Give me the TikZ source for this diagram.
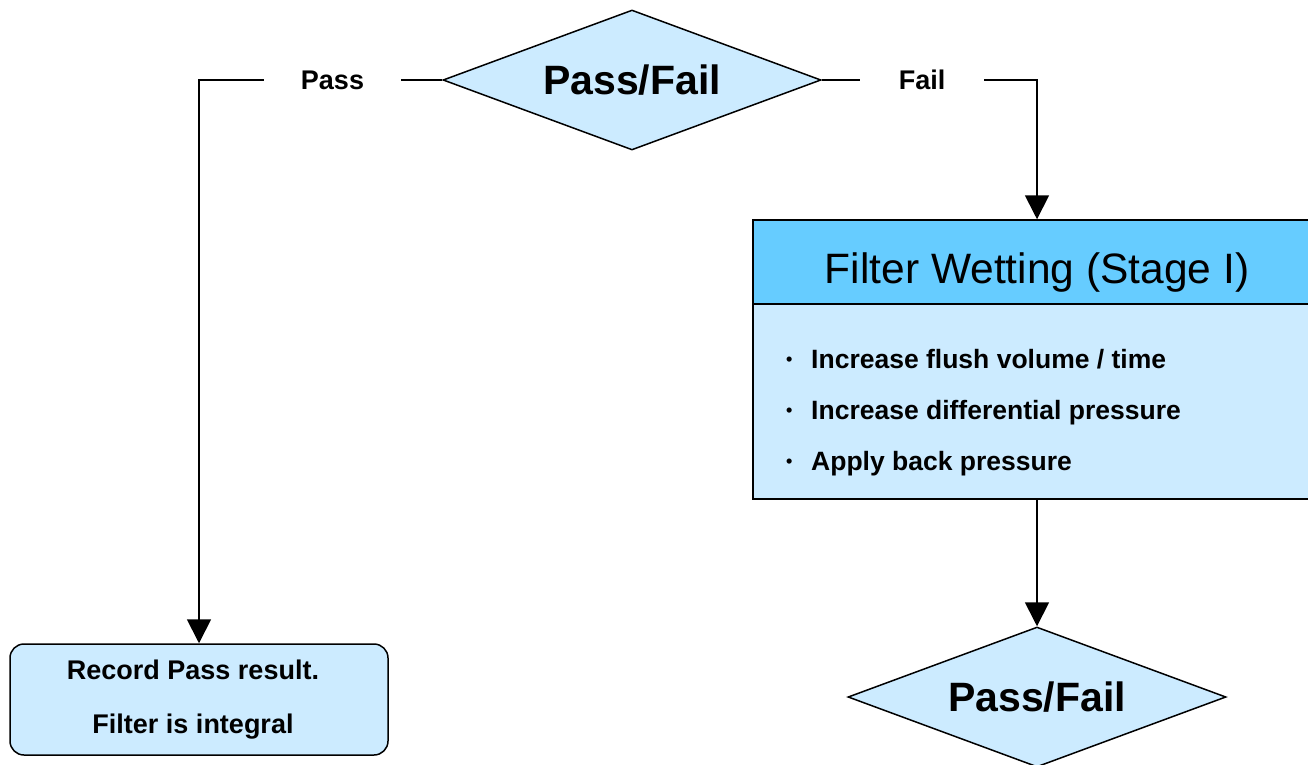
\documentclass[tikz,border=0pt]{standalone}
\usepackage{fontspec}
\setmainfont{Liberation Sans}
\usetikzlibrary{shapes.geometric,arrows.meta}
\definecolor{paleblue}{HTML}{CCEBFF}
\definecolor{headblue}{HTML}{66CCFF}
% small bullet glyph followed by a fixed gap
\newcommand\bulletmark{\makebox[25pt][l]{\fontsize{18}{18}\selectfont\raisebox{3pt}{•}}}
\tikzset{
  lbl/.style={font=\fontsize{27}{32}\selectfont\bfseries, inner sep=0pt},
  itemtext/.style={font=\fontsize{26.5}{32}\selectfont\bfseries, inner sep=0pt, anchor=base west},
  decision/.style={diamond, draw, line width=1.5pt, fill=paleblue,
    minimum width=378pt, minimum height=140pt, shape aspect=2.7, inner sep=0pt,
    font=\fontsize{41}{50}\selectfont\bfseries},
  headbox/.style={rectangle, draw, line width=1.5pt, fill=headblue,
    minimum width=568pt, minimum height=84pt, inner sep=0pt},
  bodybox/.style={rectangle, draw, line width=1.5pt, fill=paleblue,
    minimum width=568pt, minimum height=195pt, inner sep=0pt},
  endbox/.style={rectangle, draw, line width=1.5pt, fill=paleblue, rounded corners=14pt,
    minimum width=378pt, minimum height=111pt, inner sep=0pt},
  endtext/.style={inner sep=0pt, align=center, font=\fontsize{27}{54}\selectfont\bfseries},
  link/.style={line width=1.8pt},
  flow/.style={line width=1.8pt, -{Triangle[width=24pt,length=24pt]}},
}
\begin{document}
\begin{tikzpicture}[x=1pt,y=-1pt]
  \clip (0,0) rectangle (1308,765);
  \fill[white] (0,0) rectangle (1308,765);

  % decisions
  \node[decision] (topdia) at (632,80) {Pass/Fail};
  \node[decision] (botdia) at (1037,697) {Pass/Fail};

  % branch labels
  \node[lbl, minimum width=137pt] (passlbl) at (332.5,80) {Pass};
  \node[lbl, minimum width=124pt] (faillbl) at (922,80) {Fail};

  % wetting step
  \node[headbox] (head) at (1037,262) {};
  \node[bodybox] (body) at (1037,401.5) {};
  \node[anchor=base, inner sep=0pt, font=\fontsize{42.5}{50}\selectfont] (headtitle) at (1037,283) {Filter Wetting (Stage I)};
  \node[itemtext] (item1) at (786,368) {\bulletmark Increase flush volume / time};
  \node[itemtext] (item2) at (786,419) {\bulletmark Increase differential pressure};
  \node[itemtext] (item3) at (786,470) {\bulletmark Apply back pressure};

  % pass outcome
  \node[endbox] (rec) at (199,699.5) {};
  \node[endtext] (rectext) at (193,699.5) {Record Pass result.\\Filter is integral};

  % connectors
  \draw[link] (topdia.west) -- (passlbl.east);
  \draw[flow] (passlbl.west) -| (rec.north);
  \draw[link] (topdia.east) -- (faillbl.west);
  \draw[flow] (faillbl.east) -| (head.north);
  \draw[flow] (body.south) -- (botdia.north);
\end{tikzpicture}
\end{document}
